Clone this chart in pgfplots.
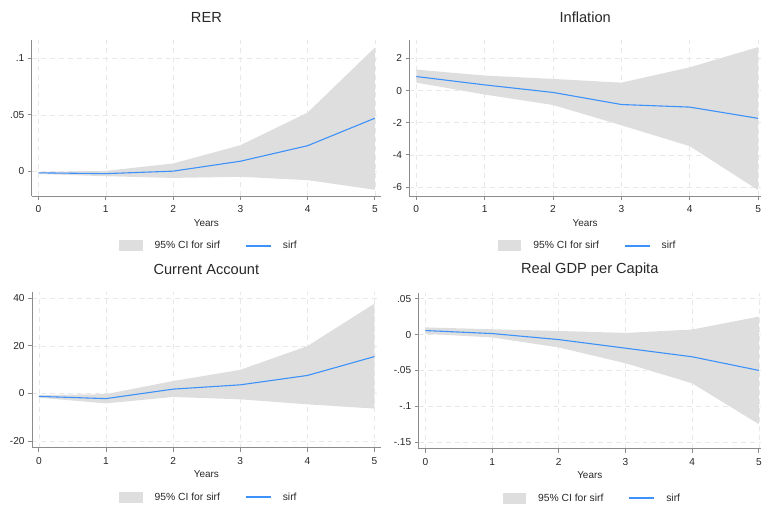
\documentclass[border=0pt]{standalone}
\usepackage{pgfplots}
\pgfplotsset{compat=1.18}
\usepackage{pgfplotstable}
\usepgfplotslibrary{fillbetween}
\usepackage{fontspec}
\setmainfont{Liberation Sans}

\definecolor{ciGray}{RGB}{222,222,222}
\definecolor{sirfBlue}{RGB}{60,145,250}
\definecolor{axisgray}{RGB}{140,140,140}
\definecolor{gridgray}{RGB}{232,232,232}
\definecolor{labelc}{RGB}{40,40,40}

\pgfplotstableread{
x lo mid hi
0 -0.0025 -0.0015 -0.0008
1 -0.0045 -0.0022 0.0003
2 -0.006 0.000 0.0068
3 -0.005 0.0088 0.023
4 -0.008 0.0226 0.052
5 -0.0165 0.047 0.1097
}\tRER

\pgfplotstableread{
x lo mid hi
0 0.49 0.87 1.30
1 -0.25 0.35 0.93
2 -0.90 -0.12 0.72
3 -2.16 -0.87 0.49
4 -3.46 -1.03 1.44
5 -6.19 -1.73 2.70
}\tINF

\pgfplotstableread{
x lo mid hi
0 -1.8 -1.26 -0.7
1 -4.2 -2.2 -0.3
2 -1.5 1.8 5.2
3 -2.5 3.6 9.9
4 -4.6 7.55 19.9
5 -6.4 15.5 37.8
}\tCA

\pgfplotstableread{
x lo mid hi
0 0.001 0.0056 0.010
1 -0.004 0.0014 0.0074
2 -0.018 -0.007 0.005
3 -0.040 -0.019 0.0023
4 -0.068 -0.031 0.007
5 -0.125 -0.050 0.025
}\tGDP

\pgfplotsset{
  irf/.style={
    scale only axis,
    xmin=-0.1, xmax=5.09,
    axis x line*=bottom, axis y line*=left,
    axis line style={axisgray, line width=0.8pt, -},
    xtick={0,1,2,3,4,5},
    tick align=outside, major tick length=4pt,
    tick style={axisgray, line width=0.8pt},
    grid=major,
    major grid style={gridgray, dash pattern=on 5pt off 4pt, line width=0.6pt},
    /pgf/number format/assume math mode=true,
    ticklabel style={font=\fontsize{10.2}{12}\selectfont, text=labelc},
    xticklabel style={yshift=-2pt},
    title style={font=\fontsize{14.7}{17}\selectfont, text=labelc, at={(0.5,1)}, anchor=center, yshift=17.5pt},
    xlabel={Years},
    xlabel style={font=\fontsize{10}{12}\selectfont, text=labelc, at={(0.5,0)}, anchor=center, yshift=-27pt},
    legend columns=2,
    legend style={at={(0.5,0)}, anchor=center, yshift=-50pt, xshift=2.5pt, draw=none, fill=none,
      font=\fontsize{10.4}{12}\selectfont, text=labelc,
      /tikz/every odd column/.append style={column sep=10pt},
      /tikz/every even column/.append style={column sep=24pt}},
  },
  ciband/.style={fill=ciGray, draw=none,
    legend image code/.code={\fill[ciGray] (0pt,-5.5pt) rectangle (23.7pt,5.5pt);}},
  sirfline/.style={sirfBlue, line width=1.1pt, no marks,
    legend image code/.code={\fill[sirfBlue] (0pt,-0.6pt) rectangle (24pt,0.6pt);}},
}

\begin{document}
\begin{tikzpicture}
\path (0,0) rectangle (765pt,-509pt);

% RER
\begin{axis}[irf, at={(32pt,-40.7pt)}, anchor=north west,
  width=351pt, height=156.3pt,
  ymin=-0.022, ymax=0.116,
  ytick={0,0.05,0.1}, yticklabels={0,.05,.1},
  title={RER}]
  \addplot[draw=none, name path=hi, forget plot] table[x=x,y=hi]{\tRER};
  \addplot[draw=none, name path=lo, forget plot] table[x=x,y=lo]{\tRER};
  \addplot[ciband] fill between[of=hi and lo];
  \addlegendentry{95\% CI for sirf}
  \addplot[sirfline] table[x=x,y=mid]{\tRER};
  \addlegendentry{sirf}
\end{axis}

% Inflation
\begin{axis}[irf, at={(411.7pt,-40.7pt)}, anchor=north west,
  width=353.3pt, height=156.6pt, xmax=5.04,
  ymin=-6.57, ymax=3.11,
  ytick={-6,-4,-2,0,2}, yticklabels={-6,-4,-2,0,2},
  title={Inflation}]
  \addplot[draw=none, name path=hi, forget plot] table[x=x,y=hi]{\tINF};
  \addplot[draw=none, name path=lo, forget plot] table[x=x,y=lo]{\tINF};
  \addplot[ciband] fill between[of=hi and lo];
  \addlegendentry{95\% CI for sirf}
  \addplot[sirfline] table[x=x,y=mid]{\tINF};
  \addlegendentry{sirf}
\end{axis}

% Current Account
\begin{axis}[irf, at={(32.3pt,-294pt)}, anchor=north west,
  width=350.3pt, height=156pt,
  ymin=-22.8, ymax=42.5,
  ytick={-20,0,20,40}, yticklabels={-20,0,20,40},
  title={Current Account}]
  \addplot[draw=none, name path=hi, forget plot] table[x=x,y=hi]{\tCA};
  \addplot[draw=none, name path=lo, forget plot] table[x=x,y=lo]{\tCA};
  \addplot[ciband] fill between[of=hi and lo];
  \addlegendentry{95\% CI for sirf}
  \addplot[sirfline] table[x=x,y=mid]{\tCA};
  \addlegendentry{sirf}
\end{axis}

% Real GDP per Capita
\begin{axis}[irf, at={(421pt,-295pt)}, anchor=north west,
  width=344pt, height=156pt, xmax=5.03,
  ymin=-0.159, ymax=0.0574,
  ytick={-0.15,-0.1,-0.05,0,0.05}, yticklabels={-.15,-.1,-.05,0,.05},
  title={Real GDP per Capita}]
  \addplot[draw=none, name path=hi, forget plot] table[x=x,y=hi]{\tGDP};
  \addplot[draw=none, name path=lo, forget plot] table[x=x,y=lo]{\tGDP};
  \addplot[ciband] fill between[of=hi and lo];
  \addlegendentry{95\% CI for sirf}
  \addplot[sirfline] table[x=x,y=mid]{\tGDP};
  \addlegendentry{sirf}
\end{axis}
\end{tikzpicture}
\end{document}
